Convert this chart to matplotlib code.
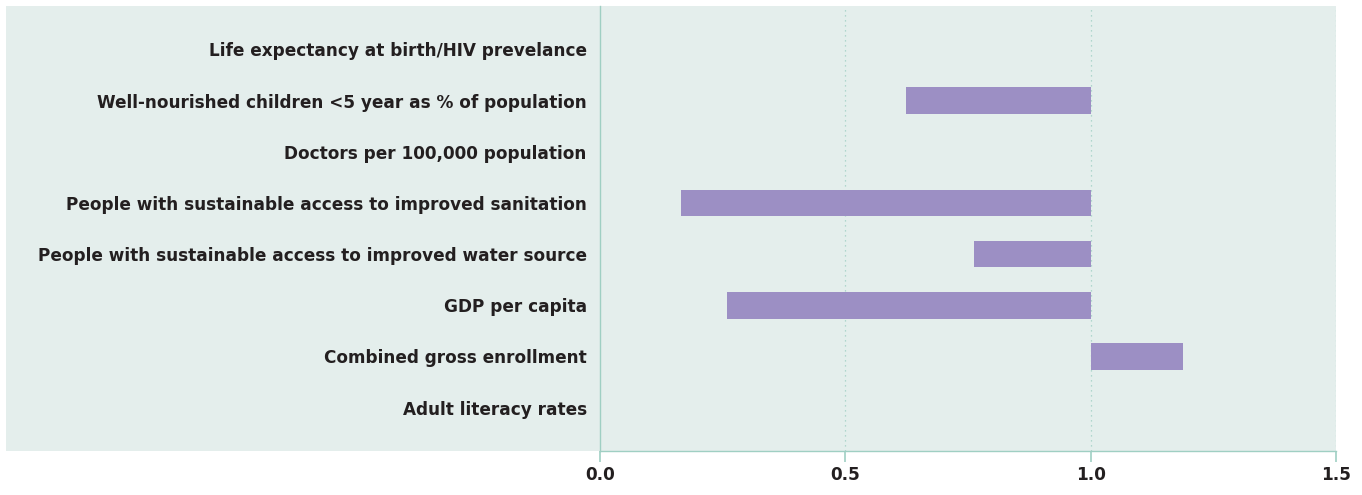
import numpy as np
import matplotlib.pyplot as plt
from matplotlib.patches import Rectangle

plt.rcParams['font.family'] = ['DejaVu Sans']

categories = ['Life expectancy at birth/HIV prevelance',
              'Well-nourished children <5 year as % of population',
              'Doctors per 100,000 population',
              'People with sustainable access to improved sanitation',
              'People with sustainable access to improved water source',
              'GDP per capita',
              'Combined gross enrollment',
              'Adult literacy rates']
values = [np.nan, 0.623, np.nan, 0.165, 0.762, 0.259, 1.189, np.nan]
ticks = [0.0, 0.5, 1.0, 1.5]

BG = '#e4eeec'
AXC = '#9fcfc3'
BAR = '#9c8fc4'

W, H = 1362, 495
fig = plt.figure(figsize=(W / 100, H / 100), dpi=100)
fig.patches.append(Rectangle((6 / W, 1 - 451 / H), (1336 - 6) / W, 445 / H,
                             transform=fig.transFigure, facecolor=BG,
                             edgecolor='none', zorder=-10))
ax = fig.add_axes([600 / W, 1 - 451 / H, (1336 - 600) / W, 445 / H])
ax.set_facecolor(BG)

y = np.arange(len(categories))
vals = np.array(values)
left = np.minimum(vals, 1.0)
width = np.abs(vals - 1.0)
ax.barh(y, width, left=left, height=0.52, color=BAR, zorder=3)

ax.set_xlim(0, 1.5)
ax.set_ylim(7.85, -0.85)
ax.set_xticks(ticks)
ax.set_xticklabels([f'{t:.1f}' for t in ticks], fontsize=12.2, fontweight='bold',
                   color='#231f20')
ax.set_yticks(y)
ax.set_yticklabels(categories, fontsize=12.2, fontweight='bold', color='#231f20')
ax.tick_params(axis='y', length=0, pad=9.5)
ax.tick_params(axis='x', length=8, width=1.2, color=AXC, pad=2.5)

for t in ticks[1:]:
    ax.axvline(t, color=AXC, linestyle=(0, (1, 3)), linewidth=0.9, zorder=1)

for s in ['top', 'right']:
    ax.spines[s].set_visible(False)
for s in ['left', 'bottom']:
    ax.spines[s].set_color(AXC)
    ax.spines[s].set_linewidth(1)

fig.savefig('out.png', dpi=100)
